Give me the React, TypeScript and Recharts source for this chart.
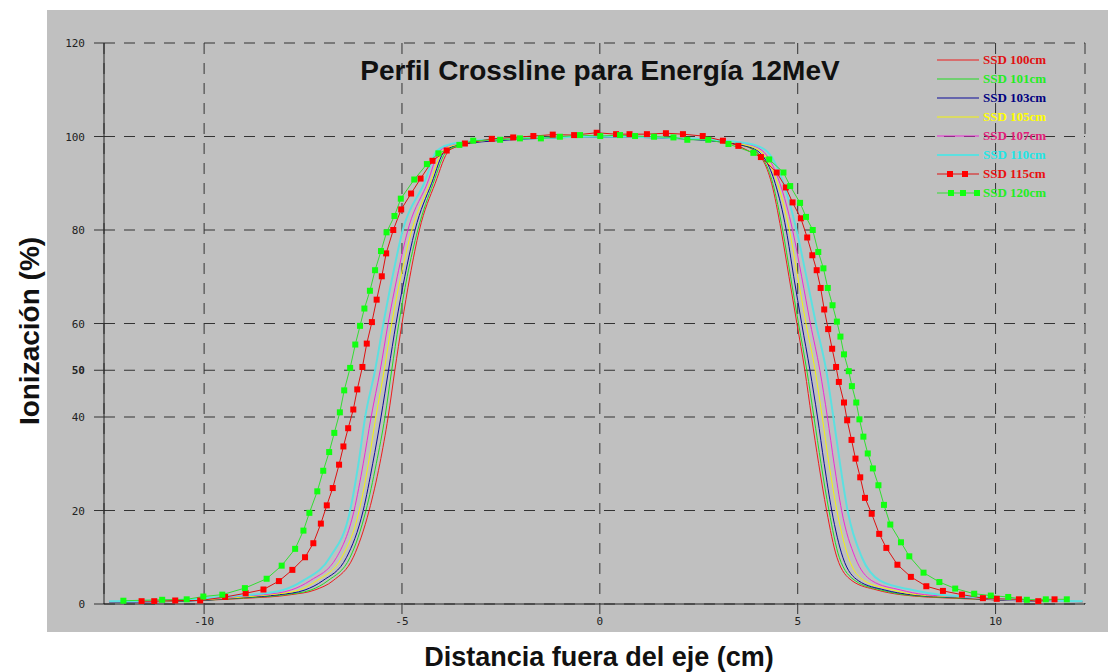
import React from 'react';
import { LineChart, Line, XAxis, YAxis, CartesianGrid } from 'recharts';

// perfiles: [distancia (cm), ionizacion (%)]
const ssd100: [number, number][] = [
  [-12.4, 0.5], [-11, 0.6], [-10, 0.8], [-9, 1.2], [-7.8, 2], [-7.2, 3], [-6.74, 5], [-6.23, 10],
  [-5.83, 20], [-5.56, 30], [-5.35, 40], [-5.18, 50], [-5.0, 60], [-4.8, 70], [-4.56, 80], [-4.16, 90],
  [-3.81, 97], [-3.4, 98.4], [-2.6, 99.2], [-1.5, 99.7], [0, 100], [1.5, 99.8], [2.6, 99.3], [3.4, 98.5],
  [3.9, 97], [4.34, 90], [4.58, 80], [4.78, 70], [4.98, 60], [5.18, 50], [5.35, 40], [5.53, 30], [5.73, 20],
  [5.99, 10], [6.37, 5], [7.0, 3], [7.6, 2], [9, 1.2], [10, 0.9], [11, 0.7], [12.2, 0.5],
];
const ssd101: [number, number][] = [
  [-12.4, 0.5], [-11, 0.6], [-10, 0.8], [-9, 1.3], [-7.95, 2], [-7.3, 3], [-6.87, 5], [-6.31, 10],
  [-5.91, 20], [-5.65, 30], [-5.43, 40], [-5.26, 50], [-5.08, 60], [-4.87, 70], [-4.6, 80], [-4.21, 90],
  [-3.86, 97], [-3.45, 98.4], [-2.6, 99.3], [-1.5, 99.7], [0, 100], [1.5, 99.8], [2.6, 99.3], [3.45, 98.4],
  [3.92, 97], [4.37, 90], [4.62, 80], [4.82, 70], [5.02, 60], [5.23, 50], [5.41, 40], [5.59, 30], [5.79, 20],
  [6.05, 10], [6.45, 5], [7.1, 3], [7.7, 2], [9, 1.3], [10, 0.9], [11, 0.7], [12.2, 0.5],
];
const ssd103: [number, number][] = [
  [-12.4, 0.4], [-11, 0.5], [-10, 0.8], [-9, 1.4], [-8.1, 2], [-7.45, 3], [-7.0, 5], [-6.4, 10],
  [-5.98, 20], [-5.74, 30], [-5.53, 40], [-5.34, 50], [-5.15, 60], [-4.93, 70], [-4.67, 80], [-4.25, 90],
  [-3.91, 97], [-3.5, 98.3], [-2.6, 99.1], [-1.5, 99.6], [0, 99.9], [1.5, 99.7], [2.6, 99.2], [3.5, 98.3],
  [3.97, 97], [4.43, 90], [4.71, 80], [4.9, 70], [5.1, 60], [5.31, 50], [5.5, 40], [5.67, 30], [5.86, 20],
  [6.14, 10], [6.53, 5], [7.2, 3], [7.85, 2], [9, 1.4], [10, 0.9], [11, 0.6], [12.2, 0.5],
];
const ssd105: [number, number][] = [
  [-12.4, 0.5], [-11, 0.6], [-10, 0.9], [-9, 1.5], [-8.3, 2], [-7.6, 3], [-7.15, 5], [-6.52, 10],
  [-6.08, 20], [-5.85, 30], [-5.66, 40], [-5.45, 50], [-5.26, 60], [-5.03, 70], [-4.75, 80], [-4.29, 90],
  [-3.96, 97], [-3.55, 98.4], [-2.6, 99.3], [-1.5, 99.7], [0, 100], [1.5, 99.8], [2.6, 99.4], [3.55, 98.4],
  [4.03, 97], [4.49, 90], [4.79, 80], [5.0, 70], [5.21, 60], [5.44, 50], [5.62, 40], [5.79, 30], [5.99, 20],
  [6.28, 10], [6.68, 5], [7.4, 3], [8.0, 2], [9, 1.5], [10, 1.0], [11, 0.7], [12.2, 0.5],
];
const ssd107: [number, number][] = [
  [-12.4, 0.5], [-11, 0.7], [-10, 1.0], [-9, 1.7], [-8.5, 2], [-7.8, 3], [-7.32, 5], [-6.65, 10],
  [-6.21, 20], [-5.98, 30], [-5.78, 40], [-5.55, 50], [-5.35, 60], [-5.12, 70], [-4.85, 80], [-4.36, 90],
  [-4.04, 97], [-3.6, 98.5], [-2.6, 99.4], [-1.5, 99.7], [0, 100], [1.5, 99.8], [2.6, 99.4], [3.65, 98.5],
  [4.1, 97], [4.55, 90], [4.87, 80], [5.1, 70], [5.32, 60], [5.56, 50], [5.75, 40], [5.92, 30], [6.11, 20],
  [6.45, 10], [6.87, 5], [7.6, 3], [8.2, 2], [9, 1.6], [10, 1.0], [11, 0.7], [12.2, 0.5],
];
const ssd110: [number, number][] = [
  [-12.4, 0.6], [-11, 0.8], [-10, 1.2], [-9.3, 1.7], [-8.8, 2], [-8.0, 3], [-7.5, 5], [-6.82, 10],
  [-6.31, 20], [-6.1, 30], [-5.93, 40], [-5.68, 50], [-5.47, 60], [-5.24, 70], [-4.98, 80], [-4.44, 90],
  [-4.11, 97], [-3.7, 98.5], [-2.6, 99.4], [-1.5, 99.7], [0, 100], [1.5, 99.8], [2.6, 99.4], [3.75, 98.5],
  [4.2, 97], [4.64, 90], [4.97, 80], [5.22, 70], [5.46, 60], [5.72, 50], [5.9, 40], [6.07, 30], [6.26, 20],
  [6.62, 10], [7.08, 5], [7.9, 3], [8.6, 2], [9.3, 1.6], [10, 1.2], [11, 0.8], [12.2, 0.6],
];
const ssd115: [number, number][] = [
  [-11.58, 0.6], [-11.26, 0.6], [-10.73, 0.75], [-10.1, 0.75], [-9.47, 1.5], [-8.95, 2.3], [-8.5, 3.1],
  [-8.11, 4.9], [-7.77, 7.3], [-7.45, 10.0], [-7.24, 13.0], [-7.05, 17.2], [-6.9, 21.1], [-6.75, 24.8],
  [-6.59, 29.8], [-6.48, 33.7], [-6.36, 37.6], [-6.23, 41.6], [-6.13, 45.9], [-6.0, 50.7], [-5.89, 55.7],
  [-5.76, 60.3], [-5.64, 65.1], [-5.51, 70.1], [-5.4, 75.0], [-5.22, 80.0], [-5.02, 84.4], [-4.77, 87.8],
  [-4.53, 91.0], [-4.23, 94.8], [-3.87, 97.0], [-3.41, 98.5], [-2.73, 99.5], [-2.19, 99.8], [-1.68, 100.1],
  [-1.19, 100.4], [-0.65, 100.3], [-0.08, 100.8], [0.41, 100.5], [0.75, 100.5], [1.19, 100.5], [1.67, 100.7],
  [2.1, 100.5], [2.6, 100.1], [3.11, 99.1], [3.5, 98.0], [4.07, 95.6], [4.47, 92.3], [4.7, 89.1],
  [4.87, 85.9], [5.08, 82.5], [5.24, 78.4], [5.37, 74.6], [5.48, 71.4], [5.58, 67.6], [5.67, 63.0],
  [5.77, 58.8], [5.87, 54.6], [5.97, 50.7], [6.04, 47.5], [6.17, 43.1], [6.25, 39.3], [6.36, 35.1],
  [6.46, 31.1], [6.58, 27.1], [6.7, 22.7], [6.87, 19.3], [7.06, 15.0], [7.24, 12.0], [7.52, 8.4],
  [7.86, 5.8], [8.25, 3.8], [8.67, 2.8], [9.15, 2.0], [9.68, 1.25], [10.03, 1.1], [10.59, 1.0],
  [11.08, 0.6], [11.49, 1.0],
];
const ssd120: [number, number][] = [
  [-12.04, 0.7], [-11.06, 0.9], [-10.44, 1.0], [-10.02, 1.6], [-9.54, 2.0], [-8.97, 3.4], [-8.42, 5.4],
  [-8.04, 8.2], [-7.7, 11.8], [-7.49, 15.7], [-7.34, 19.5], [-7.14, 24.1], [-6.99, 28.5], [-6.84, 32.5],
  [-6.71, 36.6], [-6.57, 41.0], [-6.46, 45.7], [-6.31, 50.5], [-6.18, 55.5], [-6.06, 59.5], [-5.95, 63.2],
  [-5.81, 67.0], [-5.68, 71.4], [-5.53, 75.5], [-5.39, 79.5], [-5.19, 83.0], [-5.03, 86.7], [-4.69, 90.8],
  [-4.37, 94.1], [-4.08, 96.4], [-3.55, 98.2], [-3.2, 99.1], [-2.52, 99.3], [-2.02, 99.6], [-1.49, 99.6],
  [-1.01, 99.95], [-0.5, 100.3], [0.01, 100.1], [0.51, 100.3], [0.89, 100.1], [1.37, 99.95], [1.86, 99.8],
  [2.21, 99.3], [2.74, 99.3], [3.25, 98.4], [3.88, 96.5], [4.28, 95.1], [4.64, 92.3], [4.81, 89.4],
  [5.06, 85.8], [5.21, 82.8], [5.38, 80.0], [5.52, 75.3], [5.65, 71.8], [5.76, 67.6], [5.88, 63.9],
  [5.99, 60.4], [6.08, 57.2], [6.17, 53.4], [6.29, 49.8], [6.37, 46.6], [6.48, 43.1], [6.56, 39.5],
  [6.66, 35.8], [6.77, 32.2], [6.9, 29.0], [7.04, 25.4], [7.18, 21.2], [7.34, 17.0], [7.61, 13.2],
  [7.82, 10.2], [8.18, 6.7], [8.58, 4.7], [8.98, 3.3], [9.46, 2.2], [9.88, 1.8], [10.32, 1.5],
  [10.79, 0.9], [11.27, 1.0], [11.8, 1.0],
];

const xTicks = [-10, -5, 0, 5, 10];
const yTicks = [0, 20, 40, 50, 60, 80, 100, 120];

const series = [
  { name: 'SSD 100cm', pts: ssd100, color: '#ee1c1c', text: '#e01010', width: 1, marker: false },
  { name: 'SSD 101cm', pts: ssd101, color: '#22dd22', text: '#22ee22', width: 1, marker: false },
  { name: 'SSD 103cm', pts: ssd103, color: '#0a0a99', text: '#000080', width: 1, marker: false },
  { name: 'SSD 105cm', pts: ssd105, color: '#f4f40a', text: '#ffff00', width: 1, marker: false },
  { name: 'SSD 107cm', pts: ssd107, color: '#ee28d8', text: '#e0207a', width: 1, marker: false },
  { name: 'SSD 110cm', pts: ssd110, color: '#5ce0e0', text: '#22e6e6', width: 2, marker: false },
  { name: 'SSD 115cm', pts: ssd115, color: '#dd1111', text: '#e81010', width: 1, marker: true, fill: '#ff0000' },
  { name: 'SSD 120cm', pts: ssd120, color: '#33dd33', text: '#22ee22', width: 1, marker: true, fill: '#11ff11' },
];

const toRows = (pts: [number, number][]) => pts.map(([x, y]) => ({ x, y }));

const squareDot = (fill: string) => (p: any) => (
  <rect key={`sq-${p.index}`} x={p.cx - 3} y={p.cy - 3} width={6} height={6} fill={fill} />
);

const tickFont = { fontFamily: 'DejaVu Sans Mono', fontSize: 11, fill: '#222' };

const YTick = (p: any) => (
  <text x={p.x} y={p.y} dy={4} textAnchor="end" {...tickFont} fontWeight={p.payload.value === 50 ? 'bold' : 'normal'}>
    {p.payload.value}
  </text>
);

const App: React.FC = () => {
  return (
    <div style={{ position: 'absolute', left: 0, top: 0, width: 1111, height: 672, background: '#fff', fontFamily: 'Liberation Sans, Arial, sans-serif', overflow: 'hidden' }}>
      <div style={{ position: 'absolute', left: 47, top: 10, width: 1061, height: 622, background: '#c0c0c0' }} />
      <div style={{ position: 'absolute', left: 0, top: 0 }}>
        <LineChart width={1111} height={672} margin={{ top: 43, right: 26, bottom: 38, left: 44 }}>
          <CartesianGrid stroke="#333" strokeDasharray="11 9" />
          <XAxis
            type="number"
            dataKey="x"
            domain={[-12.53, 12.26]}
            ticks={xTicks}
            allowDataOverflow
            height={30}
            tickSize={10}
            tickMargin={3}
            tick={tickFont}
            tickFormatter={(v: number) => String(v)}
            axisLine={{ stroke: '#222' }}
            tickLine={{ stroke: '#333' }}
          />
          <YAxis
            type="number"
            dataKey="y"
            domain={[0, 120]}
            ticks={yTicks}
            allowDataOverflow
            width={60}
            tickSize={10}
            tickMargin={9}
            tick={<YTick />}
            axisLine={{ stroke: '#222' }}
            tickLine={{ stroke: '#333' }}
          />
          {series.map((s) => (
            <Line
              key={s.name}
              data={toRows(s.pts)}
              dataKey="y"
              name={s.name}
              type={s.marker ? 'linear' : 'monotone'}
              stroke={s.color}
              strokeWidth={s.width}
              dot={s.marker ? squareDot(s.fill as string) : false}
              activeDot={false}
              isAnimationActive={false}
            />
          ))}
        </LineChart>
      </div>

      {/* titulo */}
      <div style={{ position: 'absolute', left: 250, width: 700, top: 55, textAlign: 'center', fontSize: 28, lineHeight: '32px', fontWeight: 'bold', color: '#111' }}>
        Perfil Crossline para Energía 12MeV
      </div>

      {/* leyenda */}
      <div style={{ position: 'absolute', left: 935, top: 51 }}>
        {series.map((s, i) => (
          <div key={s.name} style={{ display: 'flex', alignItems: 'center', height: 18.9 }}>
            <svg width={46} height={10}>
              <line x1={2} y1={5} x2={44} y2={5} stroke={s.color} strokeWidth={s.width} />
              {s.marker && i === 6 && [15, 30].map((cx) => <rect key={cx} x={cx - 3} y={2} width={6} height={6} fill={s.fill} />)}
              {s.marker && i === 7 && [16, 28, 42].map((cx) => <rect key={cx} x={cx - 3} y={2} width={6} height={6} fill={s.fill} />)}
            </svg>
            <span style={{ fontFamily: 'Liberation Serif, serif', fontWeight: 'bold', fontSize: 13, color: s.text, marginLeft: 2 }}>
              {s.name}
            </span>
          </div>
        ))}
      </div>

      {/* ejes */}
      <div style={{ position: 'absolute', left: 30, top: 331, transform: 'translate(-50%, -50%) rotate(-90deg)', whiteSpace: 'nowrap', fontSize: 28, lineHeight: '30px', fontWeight: 'bold', color: '#111' }}>
        Ionización (%)
      </div>
      <div style={{ position: 'absolute', left: 0, width: 1198, top: 643, lineHeight: '29px', textAlign: 'center', fontSize: 27, fontWeight: 'bold', color: '#111' }}>
        Distancia fuera del eje (cm)
      </div>
    </div>
  );
};

export default App;
